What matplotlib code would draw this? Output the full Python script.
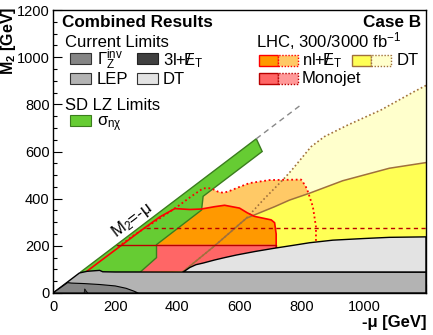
import matplotlib
matplotlib.use("Agg")
import matplotlib.pyplot as plt
from matplotlib.patches import Polygon, Rectangle

plt.rcParams["font.family"] = ["Liberation Sans", "DejaVu Sans"]
plt.rcParams["mathtext.fontset"] = "custom"
plt.rcParams["mathtext.rm"] = "Liberation Sans"
plt.rcParams["mathtext.it"] = "Liberation Sans:italic"
plt.rcParams["mathtext.bf"] = "Liberation Sans:bold"

# ---- contours: x = -mu [GeV], y = M2 [GeV] ----
GZ_X = [0, 47, 60, 100, 150, 200, 235, 260, 274]
GZ_Y = [0, 44, 42, 40, 36, 30, 20, 8, 0]
L3_X = [100, 102, 106, 112]
L3_Y = [0, 18, 10, 0]
LEP_X = [0, 85, 110, 150, 160, 200, 1200, 1200]
LEP_Y = [0, 85, 92, 96, 90, 89, 88, 0]
DTNOW_X = [418, 440, 460, 483, 520, 552, 590, 650, 713, 777, 825, 900, 1000, 1082, 1200, 1200]
DTNOW_Y = [88, 108, 120, 127, 140, 150, 161, 176, 190, 203, 213, 224, 231, 236, 238, 88]
SD_X = [88, 654, 673, 483, 478, 333, 333, 280]
SD_Y = [88, 654, 600, 410, 352, 205, 150, 88]

DT300_X = [418, 520, 622, 648, 713, 761, 825, 932, 1082, 1200]
DT300_Y = [90, 200, 317, 331, 366, 394, 423, 476, 529, 553]
DT3K_X = [418, 520, 622, 680, 739, 768, 830, 873, 948, 1055, 1162, 1200]
DT3K_Y = [90, 200, 317, 400, 479, 521, 620, 663, 712, 776, 854, 880]
NL300_X = [97, 150, 220, 280, 343, 392, 440, 477, 520, 552, 600, 625, 648, 702, 713, 718, 718]
NL300_Y = [80, 133, 202, 262, 322, 358, 354, 356, 366, 372, 360, 340, 325, 310, 298, 250, 192]
NL3K_X = [210, 258, 301, 343, 376, 402, 440, 483, 509, 530, 547, 563, 600, 632, 697, 798, 812, 820, 836, 846, 846]
NL3K_Y = [196, 243, 280, 316, 345, 368, 405, 444, 444, 430, 425, 430, 450, 466, 479, 481, 455, 430, 366, 281, 215]
MJ300_X = [205, 718, 718]
MJ300_Y = [205, 205, 190]
MJ3K_X = [300, 1200]
MJ3K_Y = [275, 275]
DIAG_X = [654, 795]
DIAG_Y = [654, 795]

XTICKS = [0, 200, 400, 600, 800, 1000, 1200]
XTICK_LABELS = ["0", "200", "400", "600", "800", "1000", ""]
YTICKS = [0, 200, 400, 600, 800, 1000, 1200]

C_GZ, C_3L, C_LEP, C_DT = "#858585", "#404040", "#b3b3b3", "#e3e3e3"
C_SD, C_SDE = "#66cc33", "#3b7d1e"
C_OR, C_LOR = "#ff9900", "#ffc966"
C_YE, C_LYE = "#ffff55", "#ffffcc"
C_MJ, C_LMJ = "#ff6666", "#ff9999"
C_BR, C_RED, C_DRED = "#a0703c", "#ff0000", "#b80000"

W, H = 433, 335
fig = plt.figure(figsize=(W / 100, H / 100), dpi=100)
ax = fig.add_axes([53 / W, 1 - 293 / H, (426 - 53) / W, (293 - 10) / H])
ax.set_xlim(0, 1200)
ax.set_ylim(0, 1200)


def poly(xs, ys, fc, ec="none", lw=0.0, z=1):
    ax.add_patch(Polygon(list(zip(xs, ys)), closed=True, fc=fc, ec=ec, lw=lw, zorder=z))


# fills (back to front)
poly(DT3K_X + [1200, 418], DT3K_Y + [80, 80], C_LYE, z=1)
poly(NL3K_X + [846, 210], NL3K_Y + [150, 150], C_LOR, z=2)
poly(DT300_X + [1200, 418], DT300_Y + [80, 80], C_YE, z=3)
poly(NL300_X + [718], NL300_Y + [100], C_OR, z=4)
poly([88] + MJ300_X + [718], [85] + MJ300_Y + [100], C_MJ, z=5)
poly(SD_X, SD_Y, C_SD, ec=C_SDE, lw=1.0, z=6)

# contour lines
ax.plot(DT3K_X, DT3K_Y, color=C_BR, lw=1.2, ls=(0, (1, 1.5)), zorder=7)
ax.plot(DT300_X, DT300_Y, color=C_BR, lw=1.1, zorder=7)
ax.plot(NL3K_X, NL3K_Y, color=C_RED, lw=1.3, ls=(0, (1, 1.5)), zorder=7)
ax.plot(NL300_X, NL300_Y, color=C_RED, lw=1.2, zorder=7)
ax.plot(MJ300_X, MJ300_Y, color=C_DRED, lw=1.0, zorder=7)
ax.plot(MJ3K_X, MJ3K_Y, color=C_DRED, lw=1.0, ls=(0, (3, 2.5)), zorder=7)
ax.plot(DIAG_X, DIAG_Y, color="#888888", lw=1.0, ls=(0, (4, 3)), zorder=7)

# current limits
poly(DTNOW_X, DTNOW_Y, C_DT, ec="black", lw=1.0, z=8)
poly(LEP_X, LEP_Y, C_LEP, ec="black", lw=1.0, z=9)
poly(GZ_X, GZ_Y, C_GZ, ec="black", lw=0.8, z=10)
poly(L3_X, L3_Y, C_3L, ec="black", lw=0.5, z=11)

ax.text(254, 310, r"M$_2$=-μ", rotation=37.1, rotation_mode="anchor",
        ha="center", va="center", fontsize=12, zorder=12)

# axes styling (ROOT-like)
ax.set_xticks(XTICKS)
ax.set_xticklabels(XTICK_LABELS)
ax.set_yticks(YTICKS)
ax.set_xticks(range(0, 1201, 50), minor=True)
ax.set_yticks(range(0, 1201, 50), minor=True)
ax.tick_params(which="both", direction="in", top=False, right=False, width=0.8,
               labelsize=10.5, zorder=20)
ax.tick_params(which="major", length=6.5)
ax.tick_params(which="minor", length=3.2)
ax.tick_params(axis="x", pad=5)
ax.tick_params(axis="y", pad=2.5)
for s in ax.spines.values():
    s.set_linewidth(1.0)
    s.set_zorder(20)

fig.text(9 / W, 1 - 7 / H, r"$\mathbf{M_{2}}$ [GeV]", rotation=90, ha="center",
         va="top", fontsize=11.5, fontweight="bold")
fig.text(426 / W, 1 - 327 / H, "-μ [GeV]", ha="right", va="baseline",
         fontsize=12, fontweight="bold")


# legend (pixel positions)
def fx(px):
    return px / W


def fy(py):
    return 1 - py / H


def box(x0, y0, x1, y1, fc, ec, ls="-", lw=0.8):
    fig.add_artist(Rectangle((fx(x0), fy(y1)), fx(x1) - fx(x0), fy(y0) - fy(y1),
                             transform=fig.transFigure, fc=fc, ec=ec, ls=ls, lw=lw))


def label(x, y, s, **kw):
    kw.setdefault("fontsize", 12)
    fig.text(fx(x), fy(y), s, va="baseline", **kw)


MET = r"$\mathregular{/\!\!\!E_T}$"

label(62, 27, "Combined Results", fontweight="bold", fontsize=12.3)
label(421, 27, "Case B", fontweight="bold", fontsize=12.3, ha="right")
label(65, 47, "Current Limits")
label(256, 47, r"LHC, 300/3000 fb$^{-1}$")

box(70, 53, 91, 64, C_GZ, "#333333")
label(97, 65, r"$\mathregular{\Gamma_Z^{inv}}$")
box(137, 53, 158, 64, C_3L, "#222222")
label(163, 65, "3l+" + MET)
box(70, 73, 91, 84, C_LEP, "#333333")
label(97, 84, "LEP")
box(137, 73, 158, 84, C_DT, "#333333")
label(163, 84, "DT")

label(65, 110, "SD LZ Limits")
box(70, 115, 91, 126, C_SD, C_SDE)
label(97, 126, r"$\mathregular{\sigma_{n\chi}}$")

box(259, 55, 278, 66, C_OR, C_RED, lw=1.0)
box(278, 55, 298, 66, C_LOR, C_RED, ls=(0, (1, 1.2)), lw=1.0)
label(302, 65, "nl+" + MET)
box(352, 55, 371, 66, C_YE, C_BR, lw=1.0)
box(371, 55, 391, 66, C_LYE, C_BR, ls=(0, (1, 1.2)), lw=1.0)
label(397, 65, "DT")
box(259, 73, 278, 84, C_MJ, C_DRED, lw=1.0)
box(278, 73, 298, 84, C_LMJ, C_DRED, ls=(0, (1, 1.2)), lw=1.0)
label(302, 83, "Monojet")

fig.savefig("out.png", dpi=100)
